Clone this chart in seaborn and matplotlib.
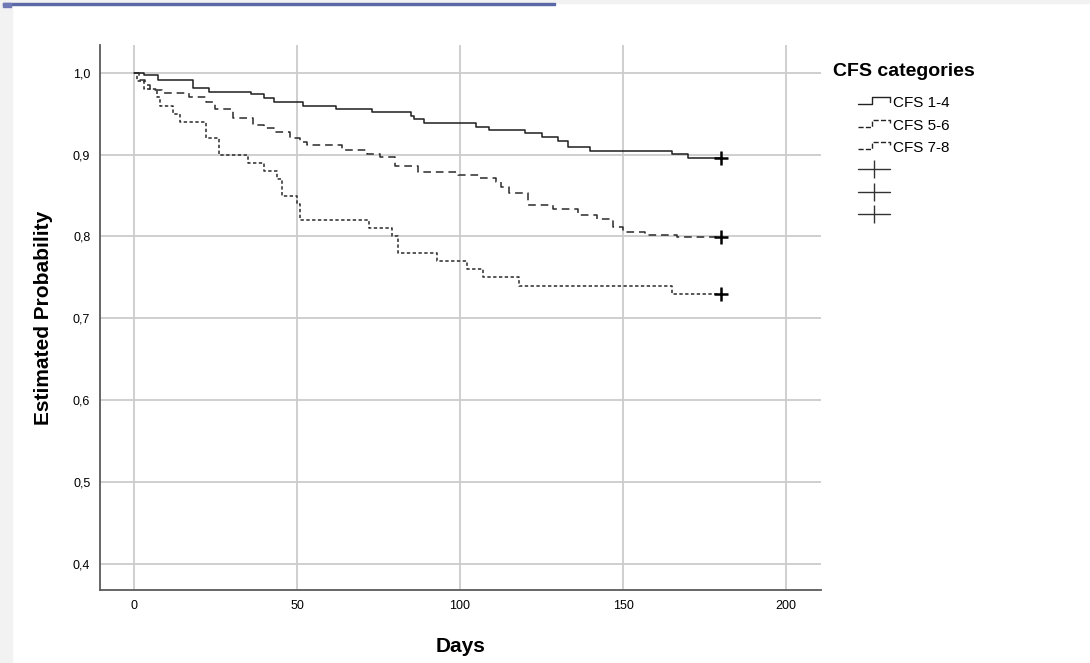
import matplotlib
matplotlib.use('Agg')
import matplotlib.pyplot as plt
from matplotlib.lines import Line2D
from matplotlib.legend_handler import HandlerBase
from matplotlib.patches import Rectangle
from matplotlib.ticker import FuncFormatter
import pandas as pd
import seaborn as sns

# Kaplan-Meier estimates
groups = ['CFS 1-4', 'CFS 5-6', 'CFS 7-8']

days_1_4 = [0, 3, 7.5, 18, 23, 36, 40, 43, 52, 62, 73, 85, 86, 89, 105, 109,
            120, 125, 130, 133, 140, 165, 170, 180]
surv_1_4 = [1.0, 0.997, 0.991, 0.981, 0.977, 0.974, 0.969, 0.964, 0.960, 0.956,
            0.952, 0.947, 0.943, 0.939, 0.934, 0.930, 0.926, 0.922, 0.917, 0.909,
            0.905, 0.901, 0.896, 0.896]

days_5_6 = [0, 1.5, 3.5, 5, 8.5, 17, 22, 25, 30.5, 36.5, 40, 43, 48, 51, 53,
            63.7, 71.4, 75.5, 80, 87, 99.5, 106, 111, 112.5, 115, 121, 128.6,
            136.3, 142, 147, 150, 156.7, 166.5, 180]
surv_5_6 = [1.0, 0.991, 0.985, 0.979, 0.975, 0.970, 0.964, 0.956, 0.945, 0.936,
            0.932, 0.928, 0.920, 0.916, 0.912, 0.906, 0.901, 0.897, 0.886, 0.879,
            0.875, 0.871, 0.866, 0.861, 0.853, 0.839, 0.833, 0.826, 0.821, 0.811,
            0.806, 0.802, 0.799, 0.799]

days_7_8 = [0, 1, 3, 7, 8, 12, 14, 22, 26, 35, 40, 44, 45.5, 50, 51, 72, 79,
            81, 93, 102, 107, 118, 165, 180]
surv_7_8 = [1.0, 0.99, 0.98, 0.97, 0.96, 0.95, 0.94, 0.92, 0.90, 0.89, 0.88,
            0.87, 0.85, 0.84, 0.82, 0.81, 0.80, 0.78, 0.77, 0.76, 0.75, 0.74,
            0.73, 0.73]

# censored cases at end of follow-up
cens_days = [180, 180, 180]
cens_surv = [0.896, 0.799, 0.73]

x_ticks = [0, 50, 100, 150, 200]
y_ticks = [0.4, 0.5, 0.6, 0.7, 0.8, 0.9, 1.0]

df = pd.concat([
    pd.DataFrame({'days': d, 'surv': s, 'group': g})
    for g, d, s in zip(groups, [days_1_4, days_5_6, days_7_8],
                       [surv_1_4, surv_5_6, surv_7_8])
])

line_colors = {'CFS 1-4': '#1e1e1e', 'CFS 5-6': '#2a2a2a', 'CFS 7-8': '#2a2a2a'}
line_dashes = {'CFS 1-4': '', 'CFS 5-6': (5, 3.2), 'CFS 7-8': (2.2, 1.6)}


class StepHandler(HandlerBase):
    # legend sample drawn as a little step, like the SPSS legend
    def create_artists(self, legend, orig_handle, xdescent, ydescent,
                       width, height, fontsize, trans):
        x0, y0 = -xdescent, -ydescent
        xs = [x0, x0 + 0.45 * width, x0 + 0.45 * width, x0 + width, x0 + width]
        ys = [y0 + 0.25 * height, y0 + 0.25 * height, y0 + 0.9 * height,
              y0 + 0.9 * height, y0 + 0.45 * height]
        ln = Line2D(xs, ys, color=orig_handle.get_color(),
                    linestyle=orig_handle.get_linestyle(), lw=1.0)
        ln.set_transform(trans)
        return [ln]


sns.set_style('white')
plt.rcParams['font.family'] = ['Liberation Sans', 'DejaVu Sans']
plt.rcParams['text.color'] = 'black'
plt.rcParams['axes.labelcolor'] = 'black'

fig = plt.figure(figsize=(10.9, 6.63), dpi=100)

# window chrome around the SPSS output
fig.patches.append(Rectangle((0, 0), 12 / 1090, 1, transform=fig.transFigure,
                             color='#f2f2f2', zorder=-1))
fig.patches.append(Rectangle((0, 1 - 3 / 663), 1, 3 / 663, transform=fig.transFigure,
                             color='#f2f2f2', zorder=-1))
fig.patches.append(Rectangle((3 / 1090, 1 - 4.5 / 663), 552 / 1090, 1.5 / 663,
                             transform=fig.transFigure, color='#5b68a8', zorder=-1))
fig.patches.append(Rectangle((3 / 1090, 1 - 6.5 / 663), 8 / 1090, 3.5 / 663,
                             transform=fig.transFigure, color='#7079b5', zorder=-1))

ax = fig.add_axes([100 / 1090, 1 - 590 / 663, 721 / 1090, 545 / 663])
ax.set_facecolor('white')
ax.grid(True, color='#cbcbcb', lw=1.3)
ax.set_axisbelow(True)

sns.lineplot(data=df, x='days', y='surv', hue='group', style='group',
             palette=line_colors, dashes=line_dashes, drawstyle='steps-post',
             estimator=None, sort=False, lw=1.1, legend=False, ax=ax)
sns.scatterplot(x=cens_days, y=cens_surv, marker='+', s=100, color='black',
                linewidth=1.8, legend=False, zorder=5, ax=ax)

ax.set_xlim(-10.4, 210.7)
ax.set_ylim(0.368, 1.034)
ax.set_xticks(x_ticks)
ax.set_yticks(y_ticks)
ax.yaxis.set_major_formatter(FuncFormatter(lambda v, p: f'{v:.1f}'.replace('.', ',')))
ax.tick_params(length=0, labelsize=9, labelcolor='black')
ax.tick_params(axis='y', pad=7)
ax.tick_params(axis='x', pad=7)

for side in ['top', 'right']:
    ax.spines[side].set_visible(False)
for side in ['left', 'bottom']:
    ax.spines[side].set_color('#5a5a5a')
    ax.spines[side].set_linewidth(1.3)

ax.set_xlabel('Days', fontsize=15, fontweight='bold', labelpad=18)
ax.set_ylabel('Estimated Probability', fontsize=15, fontweight='bold', labelpad=14)

# legend
fig.text(833 / 1090, 1 - 72 / 663, 'CFS categories', fontsize=14,
         fontweight='bold', va='center', ha='left')
step_handles = [Line2D([], [], color='#222222', linestyle='-'),
                Line2D([], [], color='#222222', linestyle=(0, (4, 3))),
                Line2D([], [], color='#222222', linestyle=(0, (2, 1.5)))]
cross_handles = [Line2D([], [], color='#333333', lw=1.0, marker='|',
                        markersize=12.5, markeredgewidth=1.0) for _ in range(3)]
fig.legend(step_handles + cross_handles, groups + ['', '', ''],
           loc='upper left', bbox_to_anchor=(858 / 1090, 1 - 96 / 663),
           bbox_transform=fig.transFigure, frameon=False, fontsize=11,
           borderpad=0, borderaxespad=0, handlelength=2.1, handletextpad=0.2,
           labelspacing=0.56,
           handler_map={h: StepHandler() for h in step_handles})

fig.savefig('out.png', dpi=100)
